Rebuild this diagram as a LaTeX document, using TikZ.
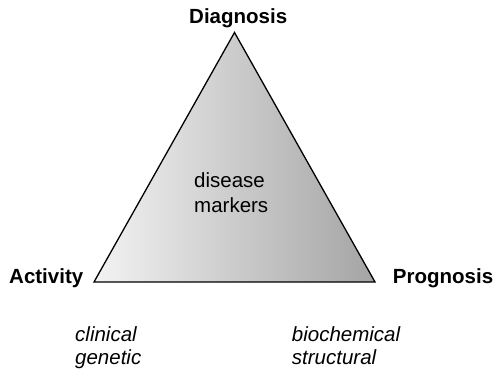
\documentclass[tikz,border=0pt]{standalone}
\usepackage{fontspec}
\setmainfont{Liberation Sans}
\begin{document}
\begin{tikzpicture}[x=1pt,y=1pt,
  corner/.style={font=\fontsize{20.5}{24}\selectfont\bfseries, inner sep=0pt, anchor=base west},
  inner/.style={font=\fontsize{20.5}{24}\selectfont, inner sep=0pt, anchor=base west},
  kind/.style={font=\fontsize{20.5}{24}\selectfont\itshape, inner sep=0pt, anchor=base west}]
  \definecolor{paleend}{RGB}{243,243,243}
  \definecolor{darkend}{RGB}{164,164,164}
  \useasboundingbox (0,0) rectangle (497,373);
  % triangle corners
  \coordinate (top) at (234.5,340.5);
  \coordinate (left) at (94,91);
  \coordinate (right) at (375,91);
  \draw[line width=1.3pt, line join=miter, left color=paleend, right color=darkend]
    (left) -- (top) -- (right) -- cycle;
  % corner labels
  \node[corner] (diag) at (189,349.7) {Diagnosis};
  \node[corner] (act) at (9,89.5) {Activity};
  \node[corner] (prog) at (392.7,89.3) {Prognosis};
  % centre label
  \node[inner] (dis) at (194,185.3) {disease};
  \node[inner] (mark) at (194,160.3) {markers};
  % marker kinds
  \node[kind] (clin) at (75,31.3) {clinical};
  \node[kind] (gen) at (75,9) {genetic};
  \node[kind] (bio) at (291.7,31.3) {biochemical};
  \node[kind] (str) at (291.7,9) {structural};
\end{tikzpicture}
\end{document}
